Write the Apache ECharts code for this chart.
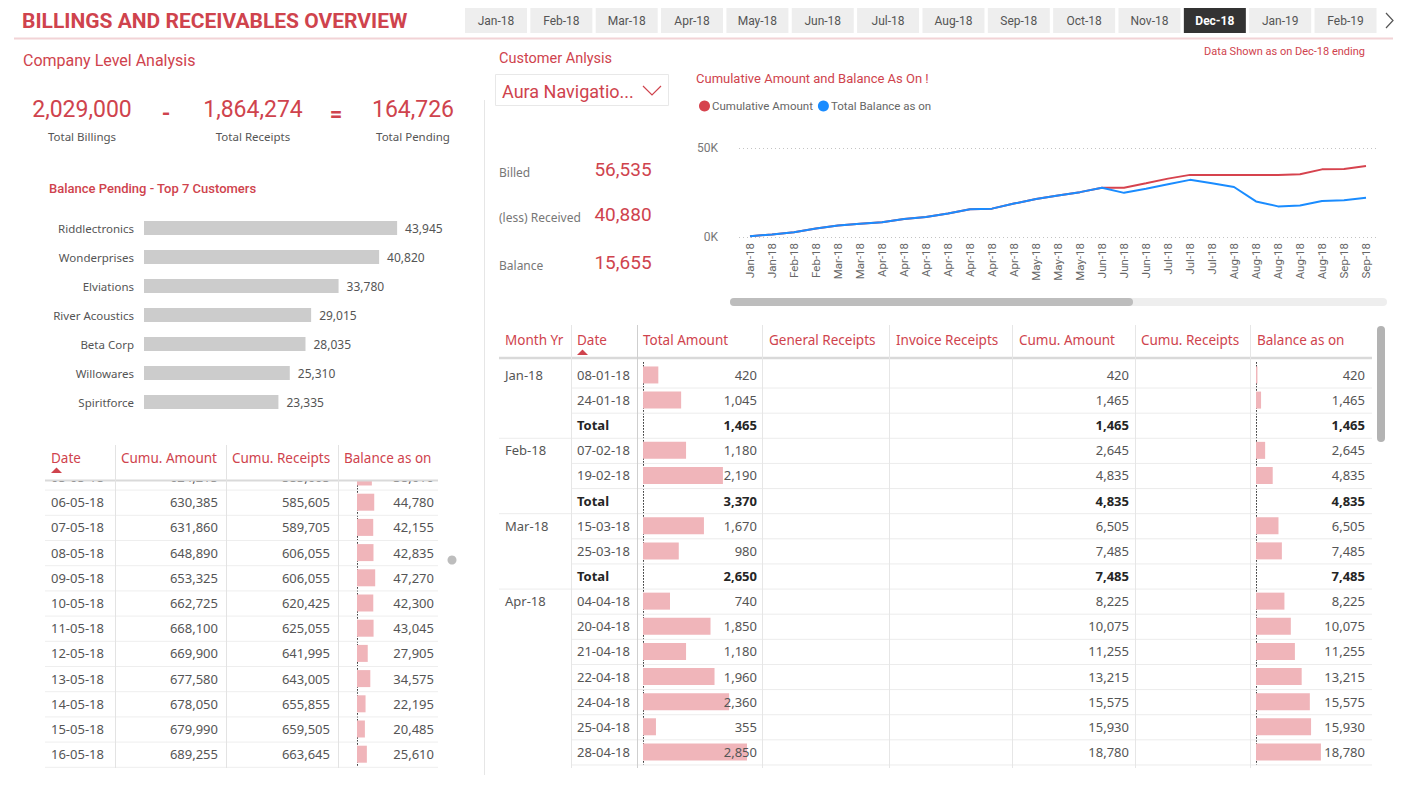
<!DOCTYPE html>
<html>
<head>
<meta charset="utf-8">
<title>Billings and Receivables Overview</title>
<script src="https://cdn.jsdelivr.net/npm/echarts@6/dist/echarts.min.js"></script>
<style>
    html, body { margin: 0; padding: 0; background: #fff; }
    #main { width: 1402px; height: 785px; }
</style>
</head>
<body>
<div id="main"></div>
<script>
    // ---- data ----
    var slicerMonths = ['Jan-18', 'Feb-18', 'Mar-18', 'Apr-18', 'May-18', 'Jun-18', 'Jul-18',
        'Aug-18', 'Sep-18', 'Oct-18', 'Nov-18', 'Dec-18', 'Jan-19', 'Feb-19'];
    var selectedMonth = 'Dec-18';

    var kpiValues = [2029000, 1864274, 164726];
    var kpiLabels = ['Total Billings', 'Total Receipts', 'Total Pending'];

    var topCustomers = ['Riddlectronics', 'Wonderprises', 'Elviations', 'River Acoustics',
        'Beta Corp', 'Willowares', 'Spiritforce'];
    var topBalance = [43945, 40820, 33780, 29015, 28035, 25310, 23335];

    var customerName = 'Aura Navigatio...';
    var customerLabels = ['Billed', '(less) Received', 'Balance'];
    var customerValues = [56535, 40880, 15655];

    var lineDates = ['Jan-18', 'Jan-18', 'Feb-18', 'Feb-18', 'Mar-18', 'Mar-18',
        'Apr-18', 'Apr-18', 'Apr-18', 'Apr-18', 'Apr-18', 'Apr-18', 'Apr-18',
        'May-18', 'May-18', 'May-18', 'Jun-18', 'Jun-18', 'Jun-18',
        'Jul-18', 'Jul-18', 'Jul-18', 'Aug-18', 'Aug-18', 'Aug-18', 'Aug-18', 'Aug-18',
        'Sep-18', 'Sep-18'];
    var cumulativeAmount = [420, 1465, 2645, 4835, 6505, 7485, 8225, 10075, 11255, 13215, 15575, 15930, 18780,
        21400, 23300, 25200, 27700, 27700, 30200, 32800, 34900, 34900, 34900, 34900, 34900,
        35300, 38000, 38200, 39900];
    var totalBalance = [420, 1465, 2645, 4835, 6505, 7485, 8225, 10075, 11255, 13215, 15575, 15930, 18780,
        21400, 23300, 25200, 27700, 24800, 27100, 29600, 32100, 30200, 28100, 20000, 17200,
        17700, 20200, 20600, 22100];
    var lineTicks = [0, 50000];

    // company table (left)
    var leftDates = ['05-05-18', '06-05-18', '07-05-18', '08-05-18', '09-05-18', '10-05-18',
        '11-05-18', '12-05-18', '13-05-18', '14-05-18', '15-05-18', '16-05-18'];
    var leftCumuAmount = [624215, 630385, 631860, 648890, 653325, 662725, 668100, 669900, 677580, 678050, 679990, 689255];
    var leftCumuReceipts = [585605, 585605, 589705, 606055, 606055, 620425, 625055, 641995, 643005, 655855, 659505, 663645];
    var leftBalance = [38610, 44780, 42155, 42835, 47270, 42300, 43045, 27905, 34575, 22195, 20485, 25610];

    // customer table (right)
    var monthYr = ['Jan-18', '', '', 'Feb-18', '', '', 'Mar-18', '', '', 'Apr-18', '', '', '', '', '', ''];
    var rowDates = ['08-01-18', '24-01-18', 'Total', '07-02-18', '19-02-18', 'Total', '15-03-18', '25-03-18', 'Total',
        '04-04-18', '20-04-18', '21-04-18', '22-04-18', '24-04-18', '25-04-18', '28-04-18'];
    var totalAmount = [420, 1045, 1465, 1180, 2190, 3370, 1670, 980, 2650, 740, 1850, 1180, 1960, 2360, 355, 2850];
    var cumuAmount = [420, 1465, 1465, 2645, 4835, 4835, 6505, 7485, 7485, 8225, 10075, 11255, 13215, 15575, 15930, 18780];
    var balanceAsOn = [420, 1465, 1465, 2645, 4835, 4835, 6505, 7485, 7485, 8225, 10075, 11255, 13215, 15575, 15930, 18780];

    // ---- styles ----
    var RED = '#cf434d';
    var PINK = '#f0b5ba';
    var DIN = 'Roboto, "Liberation Sans Narrow", sans-serif';
    var SEG = '"Noto Sans", "Open Sans", sans-serif';

    function fmt(v) { return v == null ? '' : Number(v).toLocaleString('en-US'); }
    function isTotal(i) { return rowDates[i] === 'Total'; }

    var g = [];
    function text(x, y, s, size, color, o) {
        o = o || {};
        g.push({
            type: 'text', x: x, y: y, z: o.z || 10, silent: true,
            style: {
                text: s, fill: color, fontSize: size, fontFamily: o.family || SEG,
                fontWeight: o.weight || 'normal', textAlign: o.align || 'left', textVerticalAlign: 'middle'
            }
        });
    }
    function line(x1, y1, x2, y2, color, w, z) {
        g.push({ type: 'line', z: z || 5, silent: true, shape: { x1: x1, y1: y1, x2: x2, y2: y2 },
            style: { stroke: color, lineWidth: w || 1 } });
    }
    function rect(x, y, w, h, fill, o) {
        o = o || {};
        g.push({ type: 'rect', z: o.z || 1, silent: true, shape: { x: x, y: y, width: w, height: h, r: o.r || 0 },
            style: { fill: fill, stroke: o.stroke || null, lineWidth: o.stroke ? 1 : 0 } });
    }
    function chevron(pts, color) {
        g.push({ type: 'polyline', z: 12, silent: true, shape: { points: pts },
            style: { stroke: color, lineWidth: 1.2, fill: null } });
    }

    // header
    text(22, 21, 'BILLINGS AND RECEIVABLES OVERVIEW', 21, RED, { family: DIN, weight: 'bold' });
    line(14, 38.5, 1393, 38.5, '#f2d3d6', 2);
    slicerMonths.forEach(function (m, i) {
        var x = 465 + i * 65.35, sel = m === selectedMonth;
        rect(x, 8, 62, 25, sel ? '#333333' : '#eeeeee');
        text(x + 31, 20.5, m, 12, sel ? '#ffffff' : '#555555', { align: 'center', family: DIN, weight: sel ? 'bold' : 'normal' });
    });
    chevron([[1386, 13], [1393, 20.5], [1386, 28]], '#555');
    text(1365, 51, 'Data Shown as on Dec-18 ending', 11, RED, { align: 'right', family: DIN });

    // company KPIs
    text(23, 60, 'Company Level Analysis', 16, RED, { family: DIN });
    var kpiX = [82, 253, 413];
    kpiValues.forEach(function (v, i) {
        text(kpiX[i], 109, fmt(v), 23, RED, { align: 'center', family: DIN });
        text(kpiX[i], 136, kpiLabels[i], 11.5, '#555', { align: 'center' });
    });
    text(166, 113, '-', 22, RED, { align: 'center', family: DIN, weight: 'bold' });
    text(336, 113, '=', 22, RED, { align: 'center', family: DIN, weight: 'bold' });
    text(49, 188, 'Balance Pending - Top 7 Customers', 13, RED, { family: DIN, weight: 500 });

    // customer card
    line(484.5, 100, 484.5, 775, '#e6e6e6', 1);
    text(499, 58, 'Customer Anlysis', 14.5, RED, { family: DIN });
    rect(495.5, 74.5, 173, 31, '#ffffff', { stroke: '#e8e8e8' });
    text(502, 91, customerName, 18, RED, { family: DIN });
    chevron([[643, 86], [652, 95], [661, 86]], RED);
    var custY = [171, 216, 264];
    customerLabels.forEach(function (l, i) {
        text(499, custY[i] + 1, l, 12, '#777', {});
        text(623, custY[i] - 2, fmt(customerValues[i]), 19, RED, { align: 'center', family: DIN });
    });
    text(696, 78, 'Cumulative Amount and Balance As On !', 13, RED, { family: DIN });
    rect(730, 298, 657, 8, '#eeeeee', { r: 4 });
    rect(730, 298, 403, 8, '#bdbdbd', { r: 4 });

    // left table
    var lRow0 = 477, lRowH = 25.2;
    leftDates.forEach(function (d, i) {
        var y = lRow0 + i * lRowH;
        text(51, y, d, 13, '#555');
        text(218, y, fmt(leftCumuAmount[i]), 13, '#555', { align: 'right' });
        text(330, y, fmt(leftCumuReceipts[i]), 13, '#555', { align: 'right' });
        text(434, y, fmt(leftBalance[i]), 13, '#555', { align: 'right' });
        line(45, y + lRowH / 2 + 0.5, 438, y + lRowH / 2 + 0.5, '#eeeeee', 1);
    });
    rect(40, 440, 410, 40, '#ffffff', { z: 50 });
    line(45, 480.5, 438, 480.5, '#d9d9d9', 2, 60);
    [115.5, 226.5, 338.5].forEach(function (x) { line(x, 445, x, 768, '#e3e3e3', 1, 60); });
    [['Date', 51], ['Cumu. Amount', 121], ['Cumu. Receipts', 232], ['Balance as on', 344]].forEach(function (h) {
        text(h[1], 458, h[0], 13.5, RED, { z: 60 });
    });
    g.push({ type: 'polygon', z: 60, silent: true, shape: { points: [[51, 473], [56.5, 467.5], [62, 473]] }, style: { fill: RED } });
    g.push({ type: 'circle', silent: true, shape: { cx: 452, cy: 560, r: 4.5 }, style: { fill: '#bdbdbd' } });

    // right table
    var rTop = 362.4, rRowH = 25.13;
    rowDates.forEach(function (d, i) {
        var y = rTop + rRowH * (i + 0.5), tot = isTotal(i);
        var col = tot ? '#252525' : '#555', w = tot ? 'bold' : 'normal';
        if (monthYr[i]) text(505, y, monthYr[i], 13, '#555');
        text(577, y, d, 13, col, { weight: w });
        text(757, y, fmt(totalAmount[i]), 13, col, { align: 'right', weight: w });
        text(1129, y, fmt(cumuAmount[i]), 13, col, { align: 'right', weight: w });
        text(1365, y, fmt(balanceAsOn[i]), 13, col, { align: 'right', weight: w });
        var yb = rTop + rRowH * (i + 1) + 0.5;
        line(tot ? 499 : 571, yb, 1372, yb, '#ececec', 1);
    });
    line(499, 358, 1372, 358, '#d9d9d9', 2.5);
    [571.5, 1012.5, 762.5, 889.5, 1135.5, 1250.5].forEach(function (x) { line(x, 325, x, 768, '#e6e6e6', 1); });
    line(637.5, 325, 637.5, 768, '#cfcfcf', 1);
    [['Month Yr', 505], ['Date', 577], ['Total Amount', 643], ['General Receipts', 769], ['Invoice Receipts', 896],
        ['Cumu. Amount', 1019], ['Cumu. Receipts', 1141], ['Balance as on', 1257]].forEach(function (h) {
        text(h[1], 340, h[0], 13.5, RED);
    });
    g.push({ type: 'polygon', silent: true, shape: { points: [[577, 355], [582.5, 349.5], [588, 355]] }, style: { fill: RED } });
    rect(1377, 326, 8, 116, '#b3b3b3', { r: 4 });

    // ---- chart ----
    var rowIdx = rowDates.map(function (d, i) { return String(i); });
    var dotted = { show: true, lineStyle: { color: '#444', type: [1, 2], width: 1 } };
    function tableBarAxis(gi, cats) {
        return { type: 'category', gridIndex: gi, data: cats, inverse: true, axisLabel: { show: false },
            axisTick: { show: false }, axisLine: dotted };
    }
    function hiddenValue(gi, max) {
        return { type: 'value', gridIndex: gi, min: 0, max: max, show: false };
    }

    var myChart = echarts.init(document.getElementById('main'), null, { renderer: 'svg' });
    var option = {
        animation: false,
        backgroundColor: '#ffffff',
        graphic: { elements: g },
        legend: {
            data: ['Cumulative Amount', 'Total Balance as on'],
            left: 694, top: 95, icon: 'circle', itemWidth: 11, itemHeight: 11, itemGap: 5,
            textStyle: { fontSize: 11.5, color: '#666', fontFamily: DIN, padding: [0, 0, 0, -3] }
        },
        grid: [
            { left: 144, top: 213.5, width: 288, height: 203 },
            { left: 739, top: 148, width: 638, height: 89 },
            { left: 357, top: 464.4, width: 77, height: 302.4 },
            { left: 643, top: rTop, width: 114, height: rRowH * 16 },
            { left: 1256, top: rTop, width: 112, height: rRowH * 16 }
        ],
        xAxis: [
            hiddenValue(0, 50000),
            {
                type: 'category', gridIndex: 1, data: lineDates,
                axisLine: { show: false }, axisTick: { show: false },
                axisLabel: { rotate: 90, interval: 0, fontSize: 11.5, color: '#666', fontFamily: DIN, margin: 6 }
            },
            hiddenValue(2, 200000),
            hiddenValue(3, 3124),
            hiddenValue(4, 32400)
        ],
        yAxis: [
            {
                type: 'category', gridIndex: 0, data: topCustomers, inverse: true,
                axisLine: { show: false }, axisTick: { show: false },
                axisLabel: { fontSize: 11.5, color: '#555', fontFamily: SEG, margin: 10 }
            },
            {
                type: 'value', gridIndex: 1, min: lineTicks[0], max: lineTicks[1], interval: lineTicks[1] - lineTicks[0],
                splitLine: { lineStyle: { type: [1, 3], color: '#c4c4c4' } },
                axisLabel: { formatter: function (v) { return v / 1000 + 'K'; }, fontSize: 12, color: '#777', fontFamily: DIN, margin: 21 }
            },
            tableBarAxis(2, leftDates),
            tableBarAxis(3, rowIdx),
            tableBarAxis(4, rowIdx)
        ],
        series: [
            {
                type: 'bar', xAxisIndex: 0, yAxisIndex: 0, data: topBalance, barWidth: 14,
                itemStyle: { color: '#cccccc' }, silent: true,
                label: { show: true, position: 'right', distance: 8, fontSize: 12, color: '#555', fontFamily: SEG,
                    formatter: function (p) { return fmt(p.value); } }
            },
            {
                name: 'Cumulative Amount', type: 'line', xAxisIndex: 1, yAxisIndex: 1, data: cumulativeAmount,
                symbol: 'none', lineStyle: { width: 2, color: '#d6434e' }, itemStyle: { color: '#d6434e' }
            },
            {
                name: 'Total Balance as on', type: 'line', xAxisIndex: 1, yAxisIndex: 1, data: totalBalance,
                symbol: 'none', lineStyle: { width: 2, color: '#1a8cff' }, itemStyle: { color: '#1a8cff' }
            },
            {
                type: 'bar', xAxisIndex: 2, yAxisIndex: 2, data: leftBalance, barWidth: 17,
                itemStyle: { color: PINK }, silent: true
            },
            {
                type: 'bar', xAxisIndex: 3, yAxisIndex: 3, barWidth: 17, itemStyle: { color: PINK }, silent: true,
                data: totalAmount.map(function (v, i) { return isTotal(i) ? null : v; })
            },
            {
                type: 'bar', xAxisIndex: 4, yAxisIndex: 4, barWidth: 17, itemStyle: { color: PINK }, silent: true,
                data: balanceAsOn.map(function (v, i) { return isTotal(i) ? null : v; })
            }
        ]
    };
    myChart.setOption(option);
</script>
</body>
</html>
